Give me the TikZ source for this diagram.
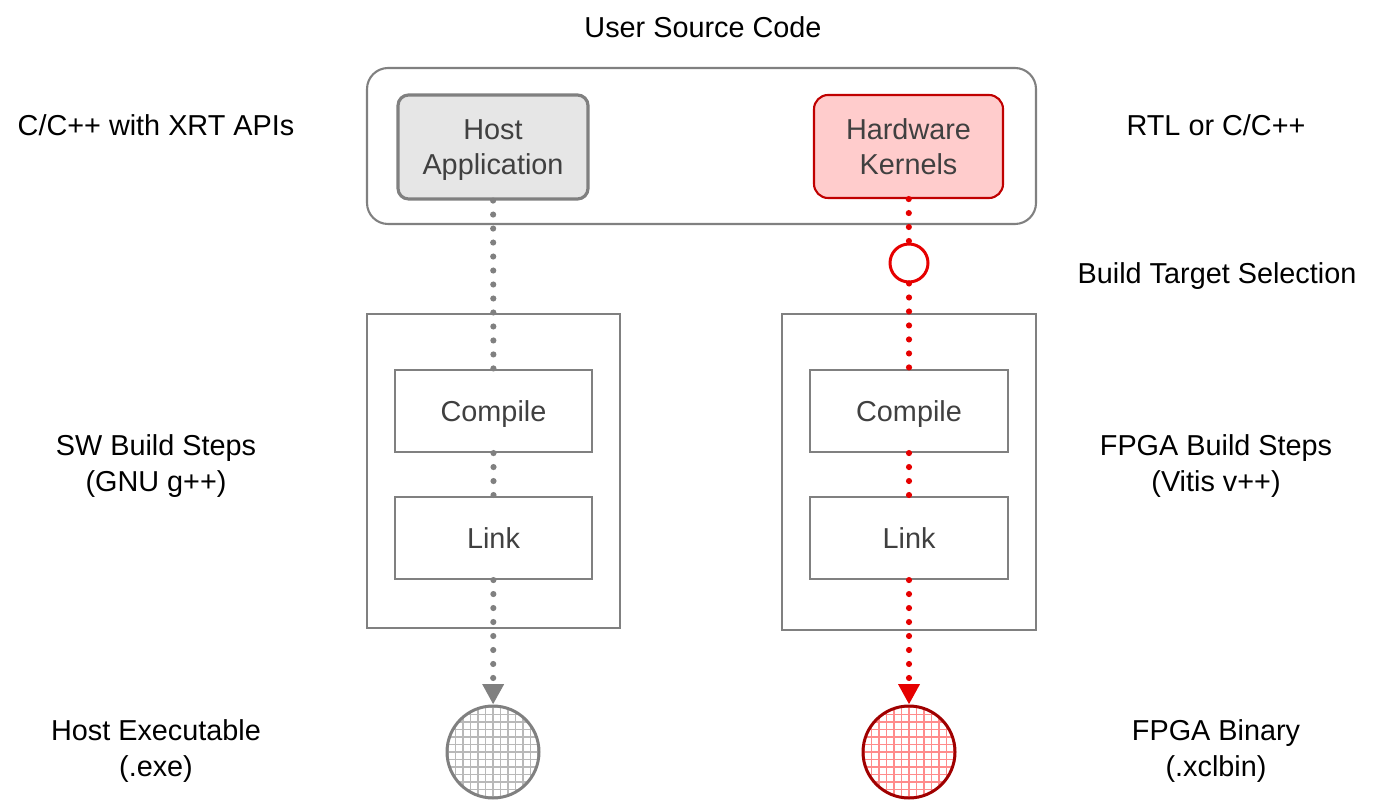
\documentclass[tikz,border=0pt]{standalone}
\usepackage{fontspec}
\setmainfont{Liberation Sans}
\usetikzlibrary{arrows.meta}
\definecolor{boxgray}{HTML}{808080}
\definecolor{txtgray}{HTML}{404040}
\definecolor{hostfill}{HTML}{E6E6E6}
\definecolor{kernfill}{HTML}{FFCCCC}
\definecolor{kernred}{HTML}{C00000}
\definecolor{flowred}{HTML}{E60000}
\definecolor{binred}{HTML}{A00000}
\begin{document}
\begin{tikzpicture}[
    font=\fontsize{8.2}{10}\selectfont,
    every node/.style={align=center,text depth=0pt},
    srcbox/.style={draw=boxgray,line width=0.6pt,rounded corners=6pt},
    stepbox/.style={draw=boxgray,line width=0.6pt,fill=white,minimum width=1.97cm,minimum height=0.82cm,text=txtgray},
    groupbox/.style={draw=boxgray,line width=0.6pt},
    flow/.style={line width=1.75pt,line cap=round,dash pattern=on 0pt off 3.98pt},
    grid/.style={circle,line width=0.85pt,fill=white,minimum size=0.92cm,inner sep=0pt},
]
    \useasboundingbox (0,0) rectangle (13.78,-8);
    % source code block
    \node[srcbox,minimum width=6.69cm,minimum height=1.56cm] (src) at (7.015,-1.46) {};
    \node at (7.03,-0.27) {User Source Code};
    \node[draw=boxgray,fill=hostfill,line width=0.9pt,rounded corners=3pt,minimum width=1.9cm,minimum height=1.04cm,text=txtgray] (host) at (4.93,-1.47) {Host\\Application};
    \node[draw=kernred,fill=kernfill,line width=0.6pt,rounded corners=4pt,minimum width=1.89cm,minimum height=1.03cm,text=txtgray] (kern) at (9.085,-1.465) {Hardware\\Kernels};
    % build steps
    \node[groupbox,minimum width=2.53cm,minimum height=3.14cm] (sw) at (4.935,-4.71) {};
    \node[groupbox,minimum width=2.54cm,minimum height=3.16cm] (hw) at (9.09,-4.72) {};
    \node[stepbox] (swcomp) at (4.935,-4.11) {Compile};
    \node[stepbox] (swlink) at (4.935,-5.38) {Link};
    \node[stepbox,minimum width=1.98cm] (hwcomp) at (9.09,-4.11) {Compile};
    \node[stepbox,minimum width=1.98cm] (hwlink) at (9.09,-5.38) {Link};
    \node[circle,draw=flowred,line width=0.85pt,fill=white,minimum size=0.38cm,inner sep=0pt] (sel) at (9.09,-2.63) {};
    % outputs
    \node[grid,draw=boxgray,path picture={\draw[line width=0.5pt,step=0.075,color=boxgray!55] (path picture bounding box.south west) grid (path picture bounding box.north east);}] (exe) at (4.93,-7.52) {};
    \node[grid,draw=binred,path picture={\draw[line width=0.5pt,step=0.075,color=red!45] (path picture bounding box.south west) grid (path picture bounding box.north east);}] (bin) at (9.09,-7.52) {};
    % flows
    \draw[flow,boxgray] (host) -- (swcomp);
    \draw[flow,boxgray] (swcomp) -- (swlink);
    \draw[flow,boxgray,-{Triangle[width=5.8pt,length=5.8pt]}] (swlink) -- (exe);
    \draw[flow,flowred] (kern) -- (sel);
    \draw[flow,flowred] (sel) -- (hwcomp);
    \draw[flow,flowred] (hwcomp) -- (hwlink);
    \draw[flow,flowred,-{Triangle[width=5.8pt,length=5.8pt]}] (hwlink) -- (bin);
    % side labels
    \node at (1.56,-1.25) {C/C++ with XRT APIs};
    \node at (12.16,-1.25) {RTL or C/C++};
    \node at (12.17,-2.73) {Build Target Selection};
    \node at (1.56,-4.63) {SW Build Steps\\(GNU g++)};
    \node at (12.16,-4.63) {FPGA Build Steps\\(Vitis v++)};
    \node at (1.56,-7.48) {Host Executable\\(.exe)};
    \node at (12.16,-7.48) {FPGA Binary\\(.xclbin)};
\end{tikzpicture}
\end{document}
